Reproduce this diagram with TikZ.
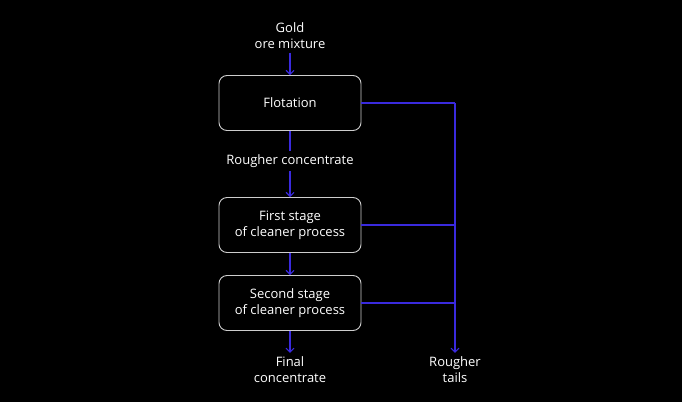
\documentclass[tikz,border=0pt]{standalone}
\usepackage{fontspec}
\setmainfont{Open Sans}
\usetikzlibrary{arrows.meta}
\definecolor{flowblue}{RGB}{58,42,222}
\definecolor{boxgrey}{RGB}{205,205,205}
\tikzset{
  stagebox/.style={draw=boxgrey,line width=0.9pt,rounded corners=8pt,minimum width=142pt,minimum height=55pt,align=center,text=white,font=\fontsize{13}{16}\selectfont},
  label/.style={align=center,text=white,font=\fontsize{13}{16}\selectfont},
  flow/.style={draw=flowblue,line width=1.2pt,-{Straight Barb[length=4pt,width=8pt,line width=1.1pt]}},
  feed/.style={draw=flowblue,line width=1.2pt}
}
\begin{document}
\begin{tikzpicture}[x=1pt,y=-1pt]
  \fill[black] (0,0) rectangle (682,402);
  \useasboundingbox (0,0) rectangle (682,402);

  \node[label] (ore) at (290,36) {Gold\\ore mixture};
  \node[stagebox] (flot) at (290,103) {Flotation};
  \node[label] (rough) at (290,161) {Rougher concentrate};
  \node[stagebox] (first) at (290,225) {First stage\\of cleaner process};
  \node[stagebox] (second) at (290,303) {Second stage\\of cleaner process};
  \node[label] (final) at (290,369.5) {Final\\concentrate};
  \node[label] (tails) at (455,369.5) {Rougher\\tails};

  \coordinate (top) at (455,103);

  \draw[flow] (ore) -- (flot);
  \draw[feed] (flot) -- (rough);
  \draw[flow] (rough) -- (first);
  \draw[flow] (first) -- (second);
  \draw[flow] (second) -- (final);

  \foreach \s in {flot,first,second} {
    \draw[feed] (\s.east) -- (\s.east -| top);
  }
  \draw[flow] (top) -- (tails);
\end{tikzpicture}
\end{document}
